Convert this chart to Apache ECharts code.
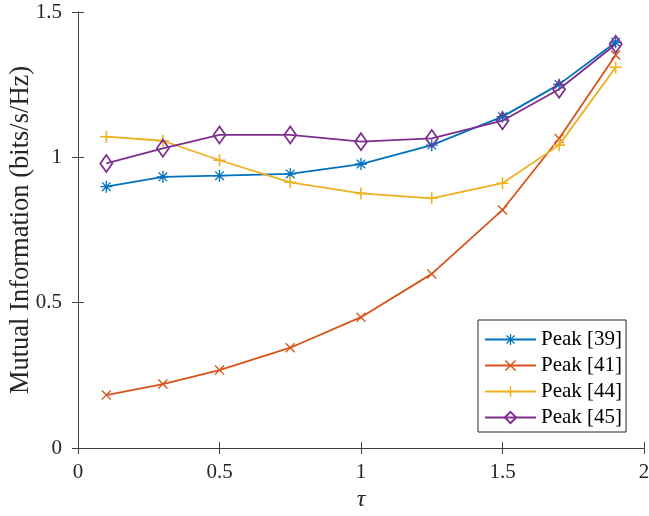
<!DOCTYPE html>
<html>
<head>
<meta charset="utf-8">
<script src="https://cdn.jsdelivr.net/npm/echarts@6/dist/echarts.min.js"></script>
<style>html,body{margin:0;padding:0;background:#fff;}#c{width:649px;height:516px;}</style>
</head>
<body>
<div id="c"></div>
<script>
const tau = [0.1, 0.3, 0.5, 0.75, 1.0, 1.25, 1.5, 1.7, 1.9];
const peak39 = [0.899, 0.933, 0.937, 0.943, 0.977, 1.042, 1.140, 1.251, 1.396];
const peak41 = [0.182, 0.220, 0.268, 0.345, 0.450, 0.599, 0.819, 1.065, 1.352];
const peak44 = [1.071, 1.057, 0.990, 0.914, 0.876, 0.859, 0.911, 1.042, 1.310];
const peak45 = [0.979, 1.031, 1.077, 1.077, 1.054, 1.065, 1.126, 1.234, 1.389];
const names = ['Peak [39]', 'Peak [41]', 'Peak [44]', 'Peak [45]'];
const xTicks = [0, 0.5, 1, 1.5, 2];
const yTicks = [0, 0.5, 1, 1.5];

const PLUS = 'path://M0,8.7 L20,8.7 L20,11.3 L0,11.3 Z M8.7,0 L11.3,0 L11.3,20 L8.7,20 Z';
const CROSS = 'path://M0,1.9 L1.9,0 L20,18.1 L18.1,20 Z M18.1,0 L20,1.9 L1.9,20 L0,18.1 Z';
const STAR = 'path://M0,8.9 L20,8.9 L20,11.1 L0,11.1 Z M8.9,0 L11.1,0 L11.1,20 L8.9,20 Z M2.1,3.6 L3.6,2.1 L17.9,16.4 L16.4,17.9 Z M16.4,2.1 L17.9,3.6 L3.6,17.9 L2.1,16.4 Z';

const colors = ['#0072BD', '#D95319', '#EDB120', '#7E2F8E'];
const dataSets = [peak39, peak41, peak44, peak45];
const symbols = [STAR, CROSS, PLUS, 'diamond'];
const sizes = [12, 10, 12, [12, 17]];

const font = "'Liberation Serif', 'Times New Roman', serif";
const axisColor = '#404040';

const series = dataSets.map((d, i) => ({
  name: names[i],
  type: 'line',
  data: tau.map((t, k) => [t, d[k]]),
  symbol: symbols[i],
  symbolSize: sizes[i],
  showAllSymbol: true,
  lineStyle: { color: colors[i], width: 1.8 },
  itemStyle: i === 3
    ? { color: 'transparent', borderColor: colors[i], borderWidth: 1.8 }
    : { color: colors[i], borderWidth: 0 },
  color: colors[i],
  animation: false,
  z: 2 + i
}));

const chart = echarts.init(document.getElementById('c'));
chart.setOption({
  backgroundColor: '#fff',
  animation: false,
  grid: { left: 78, right: 5, top: 12, bottom: 68, containLabel: false, outerBoundsMode: 'none' },
  xAxis: [{
    type: 'value', min: 0, max: 2, interval: 0.5,
    name: 'τ', nameLocation: 'middle', nameGap: 40, nameMoveOverlap: false,
    nameTextStyle: { fontFamily: font, fontStyle: 'italic', fontSize: 24, color: '#262626' },
    axisLine: { show: true, lineStyle: { color: axisColor, width: 1 } },
    axisTick: { show: true, inside: true, length: 6, lineStyle: { color: axisColor } },
    axisLabel: { fontFamily: font, fontSize: 21, color: '#262626', margin: 14,
      formatter: v => String(v) },
    splitLine: { show: false }
  }, {
    type: 'value', min: 0, max: 2, interval: 0.5, position: 'top',
    axisLine: { show: true, lineStyle: { color: axisColor, width: 1 } },
    axisTick: { show: true, inside: true, length: 6, lineStyle: { color: axisColor } },
    axisLabel: { show: false }, splitLine: { show: false }
  }],
  yAxis: [{
    type: 'value', min: 0, max: 1.5, interval: 0.5,
    name: 'Mutual Information (bits/s/Hz)', nameLocation: 'middle', nameGap: 43, nameRotate: 90,
    nameMoveOverlap: false,
    nameTextStyle: { fontFamily: font, fontSize: 26.5, color: '#262626' },
    axisLine: { show: true, lineStyle: { color: axisColor, width: 1 } },
    axisTick: { show: true, inside: true, length: 6, lineStyle: { color: axisColor } },
    axisLabel: { fontFamily: font, fontSize: 21, color: '#262626', margin: 16,
      formatter: v => String(v) },
    splitLine: { show: false }
  }, {
    type: 'value', min: 0, max: 1.5, interval: 0.5, position: 'right',
    axisLine: { show: true, lineStyle: { color: axisColor, width: 1 } },
    axisTick: { show: true, inside: true, length: 6, lineStyle: { color: axisColor } },
    axisLabel: { show: false }, splitLine: { show: false }
  }],
  legend: {
    orient: 'vertical', left: 478, top: 320,
    padding: [9, 4, 4, 6],
    itemWidth: 51, itemHeight: 14, itemGap: 5,
    backgroundColor: '#fff', borderColor: '#262626', borderWidth: 1, borderRadius: 0,
    textStyle: { fontFamily: font, fontSize: 21, color: '#000' },
    data: names
  },
  series: series
});
</script>
</body>
</html>
